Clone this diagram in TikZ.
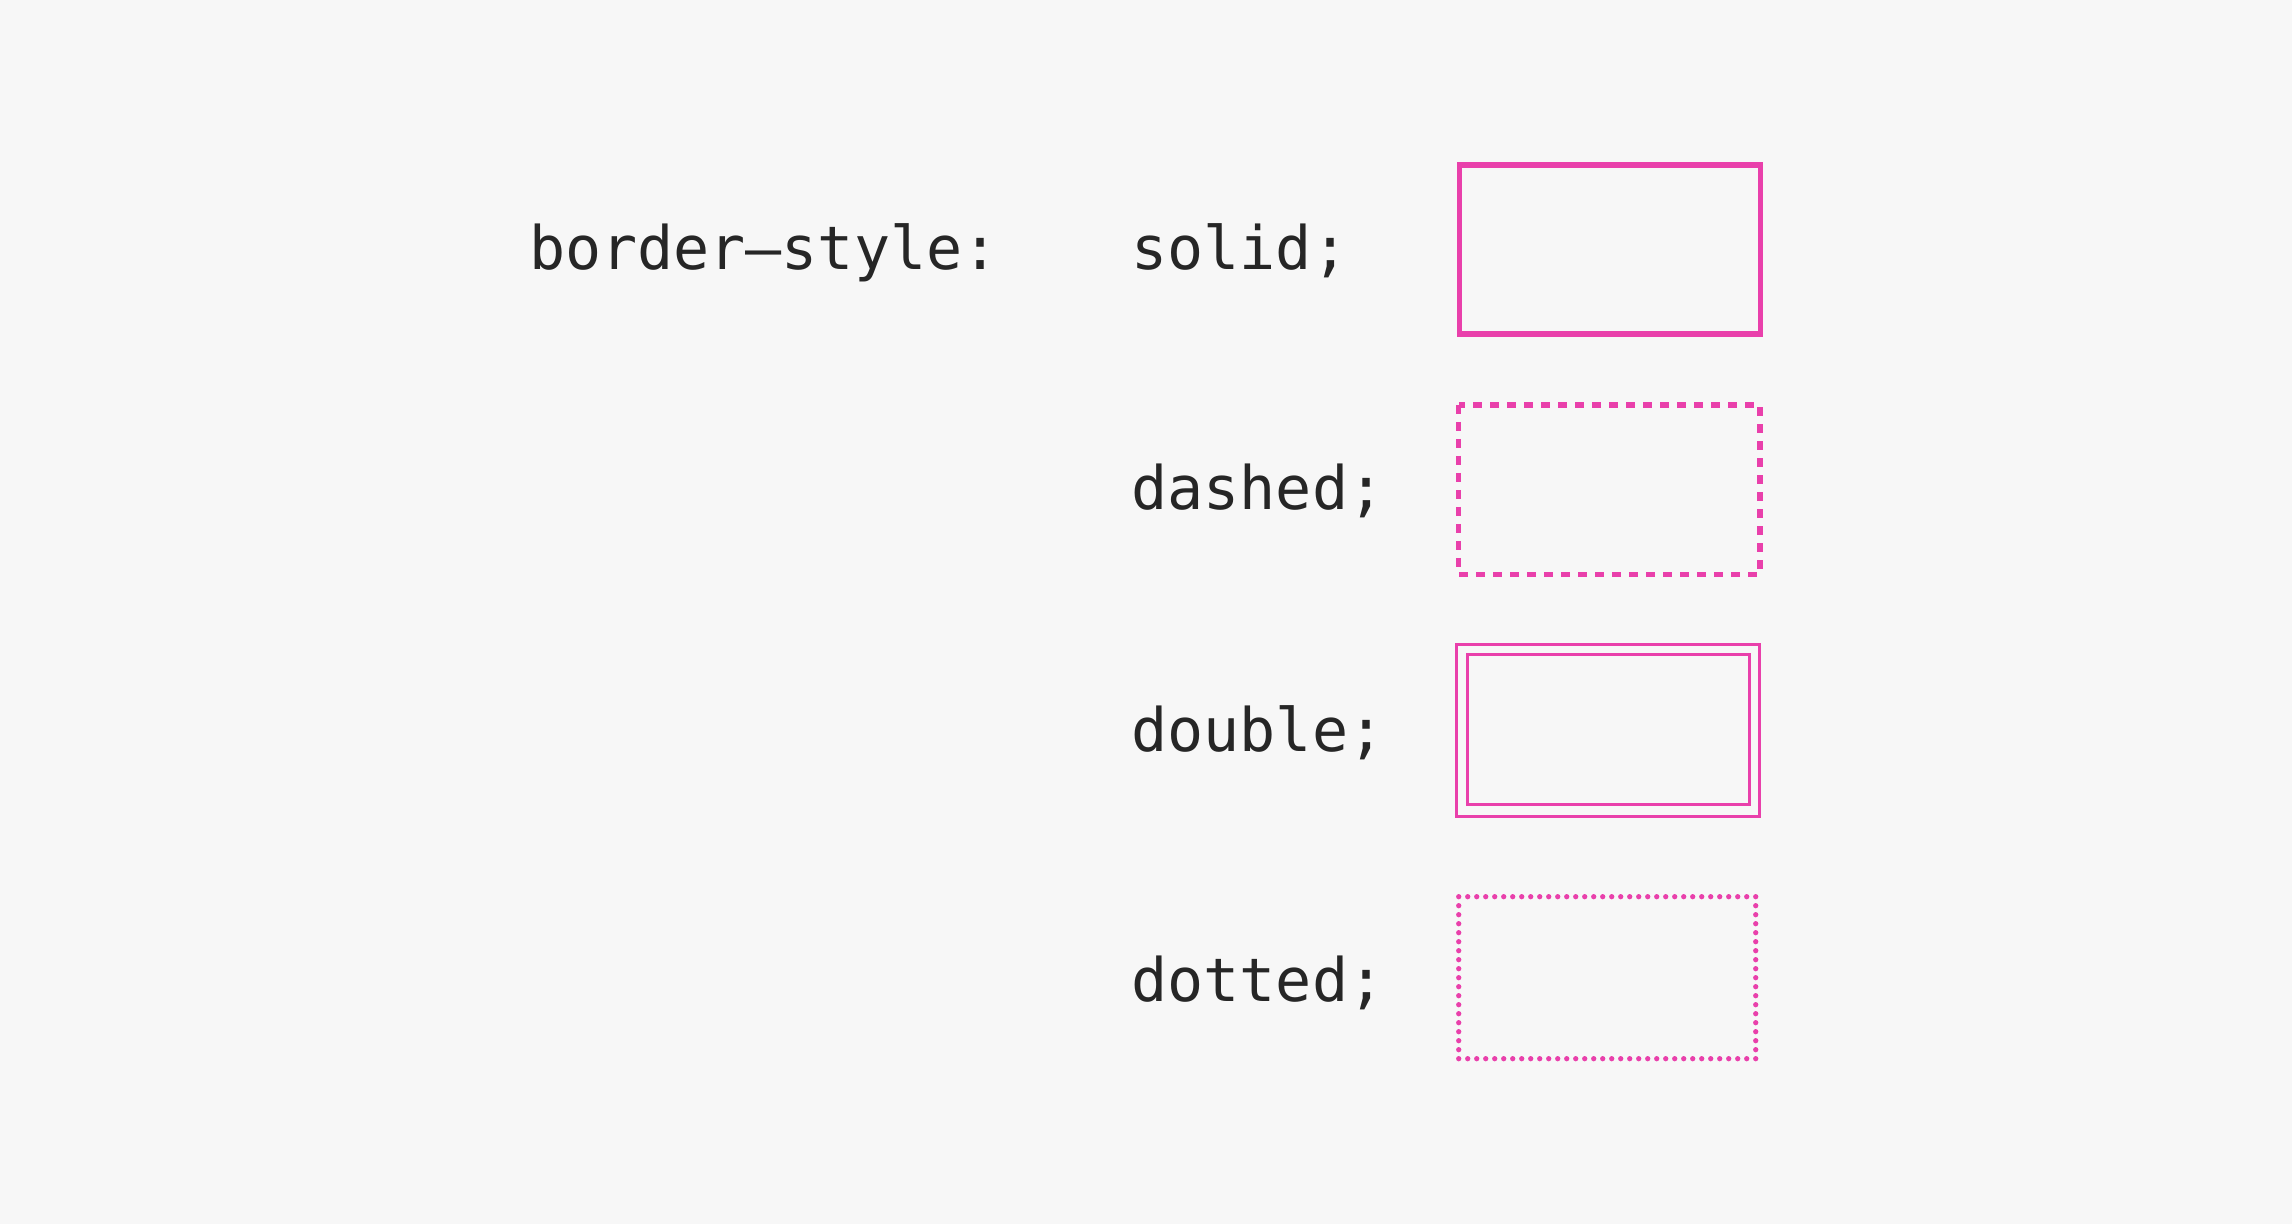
\documentclass[tikz,border=0pt]{standalone}
\usepackage{fontspec}
\setmonofont{DejaVu Sans Mono}
\definecolor{bgc}{HTML}{F7F7F7}
\definecolor{pinkc}{HTML}{E940AB}
\definecolor{txtc}{HTML}{262626}
\begin{document}
\begin{tikzpicture}[x=0.5pt,y=-0.5pt,
  code/.style={anchor=base west,inner sep=0pt,text=txtc,font=\fontsize{30pt}{36pt}\selectfont\ttfamily},
  solidbox/.style={draw=pinkc,line width=2.85pt},
  dashbox/.style={draw=pinkc,line width=2.65pt,dash pattern=on 4.5pt off 4pt},
  dblbox/.style={draw=pinkc,line width=1.5pt},
  dotbox/.style={draw=pinkc,line width=2.65pt,line cap=round,dash pattern=on 0pt off 4.5pt}]
\fill[bgc] (0,0) rectangle (2292,1224);
\useasboundingbox (0,0) rectangle (2292,1224);
\node[code] (prop) at (528.6,270) {border–style:};
\node[code] (vsolid) at (1131,270) {solid;};
\node[code] (vdashed) at (1131,510) {dashed;};
\node[code] (vdouble) at (1131,751) {double;};
\node[code] (vdotted) at (1131,1001) {dotted;};
\draw[solidbox] (1459.5,164.8) rectangle (1760.5,333.9);
\draw[dashbox] (1458.7,405) rectangle (1760,574.3);
\draw[dblbox] (1456.2,644.5) rectangle (1759.2,816.8);
\draw[dblbox] (1467.8,654.8) rectangle (1749.2,804.8);
\draw[dotbox] (1458.7,896.7) rectangle (1755.7,1058.7);
\end{tikzpicture}
\end{document}
